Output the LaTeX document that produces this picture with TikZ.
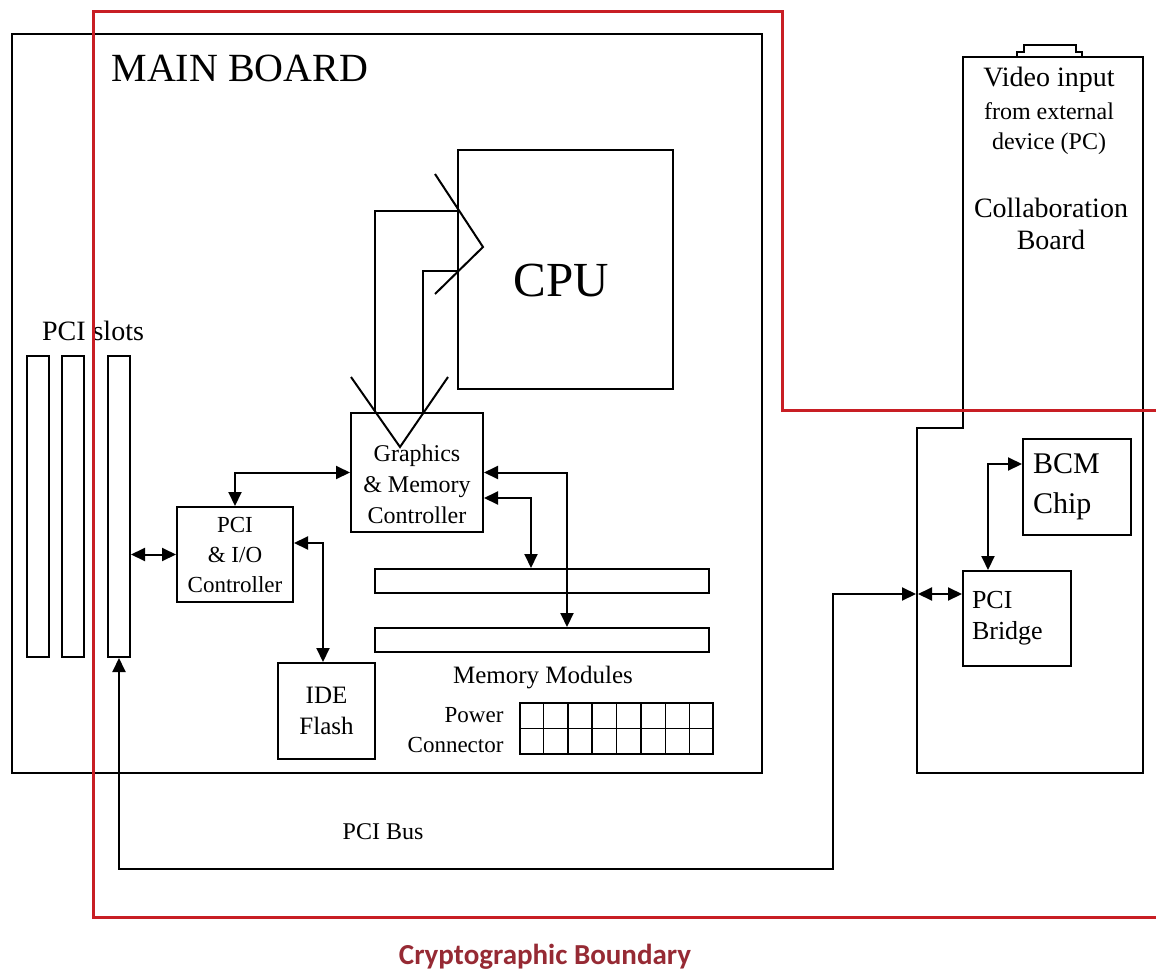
\documentclass[tikz,border=0pt]{standalone}
\usepackage{fontspec}
\setmainfont{Liberation Serif}
\newfontfamily\boundfont{Carlito}
\usepackage{xcolor}
\usetikzlibrary{arrows.meta, positioning, calc}
\definecolor{bndred}{RGB}{200,30,36}
\definecolor{bndtext}{RGB}{150,42,52}
\newcommand{\fsz}[2]{\fontsize{#1}{#2}\selectfont}

\begin{document}
\begin{tikzpicture}[x=1pt, y=-1pt,
  block/.style={draw, line width=2pt, inner sep=0pt, align=center,
                font=\fsz{24}{31}},
  slot/.style={draw, line width=2pt, minimum width=22pt, minimum height=301pt},
  membar/.style={draw, line width=2pt, minimum width=334pt, minimum height=24pt},
  arr/.style={-{Triangle[length=14pt, width=13pt]}, line width=2pt},
  dbl/.style={{Triangle[length=14pt, width=13pt]}-{Triangle[length=14pt, width=13pt]},
              line width=2pt},
  wire/.style={line width=2pt}
]
  \useasboundingbox (0,0) rectangle (1156,971);

  % Main board and its blocks
  \node[draw, line width=2pt, minimum width=750pt, minimum height=739pt] (mainbrd) at (387,403.5) {};
  \node[font=\fsz{40}{48}, anchor=west] (mbtitle) at (108,68) {MAIN BOARD};
  \node[block, minimum width=215pt, minimum height=239pt] (cpu) at (565.5,269.5) {};
  \node[font=\fsz{49}{56}] (cputxt) at (561,281) {CPU};
  \node[block, minimum width=132pt, minimum height=119pt] (gmc) at (417,472.5) {};
  \node[font=\fsz{24}{31}, align=center] (gmctxt) at (417,484) {Graphics\\\& Memory\\Controller};
  \node[block, minimum width=116pt, minimum height=95pt, font=\fsz{23}{30}] (pcio) at (235,554.5) {PCI\\\& I/O\\Controller};
  \node[block, minimum width=97pt, minimum height=96pt, font=\fsz{25}{31}] (ide) at (326.5,711) {IDE\\Flash};
  \node[membar] (mem1) at (542,581) {};
  \node[membar] (mem2) at (542,640) {};
  \node[font=\fsz{25}{30}] (memlbl) at (543,678) {Memory Modules};
  \node[block, minimum width=193pt, minimum height=51pt] (pwr) at (616.5,728.5) {};
  \node[font=\fsz{23}{30}, anchor=east, align=right] (pwrlbl) at (507,730) {Power\\Connector};
  \foreach \i in {1,...,7}
    \draw[line width=1.5pt] ($(pwr.north west)!\i/8!(pwr.north east)$) -- ($(pwr.south west)!\i/8!(pwr.south east)$);
  \draw[line width=1.5pt] (pwr.west) -- (pwr.east);

  % PCI slots
  \node[slot] (slot1) at (38,506.5) {};
  \node[slot] (slot2) at (73,506.5) {};
  \node[slot] (slot3) at (119,506.5) {};
  \node[font=\fsz{28}{34}] (slotlbl) at (93,331) {PCI slots};

  % Collaboration board
  \draw[wire] (963,428) -- (963,57) -- (1143,57) -- (1143,773) -- (917,773) -- (917,428) -- cycle;
  \draw[line width=1.5pt] (1017,57) -- (1017,52) -- (1024,52) -- (1024,45) -- (1076,45) -- (1076,52) -- (1082,52) -- (1082,57);
  \node[font=\fsz{28}{33}] (vidin) at (1049,80) {Video input};
  \node[font=\fsz{24}{30}, align=center] (vidsrc) at (1049,129) {from external\\device (PC)};
  \node[font=\fsz{28}{32}, align=center] (collab) at (1051,224) {Collaboration\\Board};
  \node[block, minimum width=108pt, minimum height=96pt, font=\fsz{30}{40},
        align=left, text width=88pt] (bcm) at (1077,487) {BCM\\Chip};
  \node[block, minimum width=108pt, minimum height=95pt, font=\fsz{26}{31},
        align=left, text width=90pt] (bridge) at (1017,618.5) {PCI\\Bridge};
  \coordinate (cbin) at (917,594);
  \coordinate (busturn) at (833,869);

  % Arrows
  \draw[wire] ([xshift=-42pt]gmc.north) |- ([yshift=58.5pt]cpu.west);
  \draw[wire] ([xshift=6pt]gmc.north) |- ([yshift=-1.5pt]cpu.west);
  \draw[wire] (435,174) -- (483,247) -- (435,294);
  \draw[wire] (351,377) -- (400,447) -- (448,377);
  \draw[dbl] (pcio.west -| slot3.east) -- (pcio.west);
  \draw[dbl] (pcio.north) |- (gmc.west);
  \draw[dbl] ([yshift=11.5pt]pcio.east) -| ([xshift=-3.5pt]ide.north);
  \draw[dbl] ([yshift=-25.5pt]gmc.east) -| ([xshift=-11pt]mem1.north);
  \draw[dbl] ([yshift=0pt]gmc.east) -| ([xshift=25pt]mem2.north);
  \draw[dbl] ([yshift=23pt]bcm.west) -| ([xshift=-29pt]bridge.north);
  \draw[dbl] (slot3.south) |- (busturn) |- ([xshift=-1pt]cbin);
  \draw[dbl] ([xshift=1pt]cbin) -- (cbin -| bridge.west);
  \node[font=\fsz{24}{30}] (buslbl) at (383,832) {PCI Bus};

  % Cryptographic boundary
  \draw[bndred, line width=3pt] (1156,410) -- (782,410) -- (782,12) -- (93,12) -- (93,917) -- (1156,917);
  \node[font=\boundfont\bfseries\fsz{29}{34}, text=bndtext] (bndlbl) at (545,957) {Cryptographic Boundary};
\end{tikzpicture}
\end{document}
